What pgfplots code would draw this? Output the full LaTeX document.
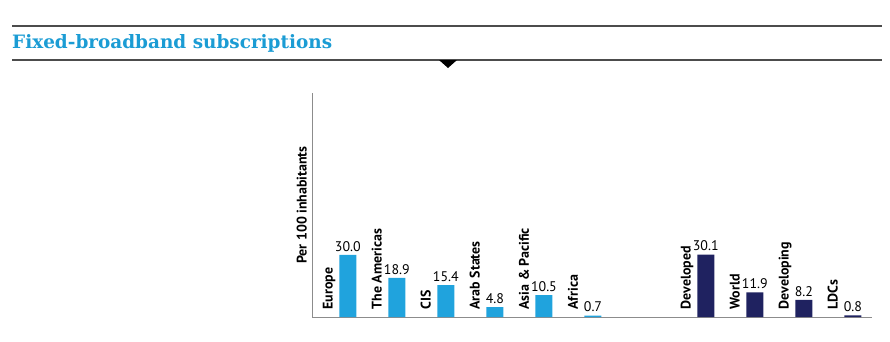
\documentclass[border=0pt]{standalone}
\usepackage{fontspec}
\setmainfont{PT Sans}
\newfontfamily\titlefont{DejaVu Serif}
\usepackage{pgfplots}
\pgfplotsset{compat=1.18}
\definecolor{barblue}{RGB}{32,163,221}
\definecolor{barnavy}{RGB}{31,34,96}
\definecolor{titleblue}{RGB}{27,156,212}
\begin{document}
\begin{tikzpicture}[x=1bp,y=1bp]
\useasboundingbox (0,0) rectangle (890,341);
\draw[line width=1.2bp, black!70] (12,315) -- (882,315);
\draw[line width=1.2bp, black!70] (12,281) -- (882,281);
\fill[black] (439,281) -- (457,281) -- (448,273) -- cycle;
\node[anchor=base west, inner sep=0, text=titleblue, font=\titlefont\bfseries\fontsize{18.5}{22}\selectfont] at (12,292.5) {Fixed-broadband subscriptions};
\begin{axis}[at={(312bp,24bp)}, anchor=south west, scale only axis,
  width=560bp, height=224bp,
  xmin=-0.73, xmax=10.69, ymin=0, ymax=108,
  axis x line*=bottom, axis y line*=left,
  axis line style={draw=black!45, line width=0.8bp, -},
  ytick=\empty,
  xtick={-0.31,0.69,1.69,2.69,3.69,4.69,6.99,7.99,8.99,9.99},
  xticklabels={Europe,The Americas,CIS,Arab States,Asia \& Pacific,Africa,Developed,World,Developing,LDCs},
  major tick length=0pt,
  xticklabel style={rotate=90, anchor=base west, font=\bfseries\fontsize{14}{16}\selectfont},
  xticklabel shift={-4bp},
  ylabel={Per 100 inhabitants},
  ylabel style={at={(axis description cs:0,0.5)}, anchor=south, inner sep=5bp, font=\bfseries\fontsize{14}{16}\selectfont},
  ybar, bar width=17bp, bar shift=0pt,
  nodes near coords,
  nodes near coords style={font=\fontsize{14}{16}\selectfont, text=black},
  /pgf/number format/.cd, fixed, fixed zerofill, precision=1, assume math mode=true,
]
\addplot[fill=barblue, draw=none] coordinates {(0,30.0) (1,18.9) (2,15.4) (3,4.8) (4,10.5) (5,0.7)};
\addplot[fill=barnavy, draw=none] coordinates {(7.3,30.1) (8.3,11.9) (9.3,8.2) (10.3,0.8)};
\end{axis}
\end{tikzpicture}
\end{document}
